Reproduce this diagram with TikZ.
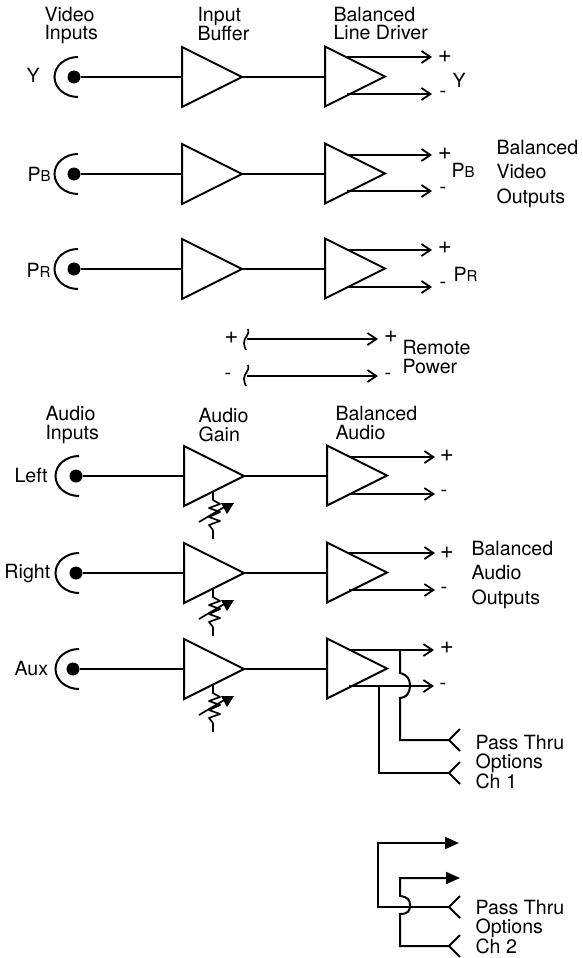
\documentclass[tikz,border=0pt]{standalone}
\usepackage{fontspec}
\setmainfont{TeX Gyre Heros}
\usetikzlibrary{shapes.geometric,arrows.meta}
\tikzset{
  wire/.style={line width=2pt,line join=miter},
  thin wire/.style={line width=1.7pt,line join=round},
  outarrow/.style={wire,-{Straight Barb[length=9pt,width=12pt,line width=1.8pt]}},
  solidarrow/.style={wire,-{Triangle[length=14pt,width=12pt]}},
  amp/.style={draw,line width=2pt,shape=isosceles triangle,isosceles triangle apex angle=53.13,
    isosceles triangle stretches,minimum width=60pt,minimum height=60pt,inner sep=0pt,outer sep=0pt,anchor=lower side},
  jackdot/.style={circle,fill=black,inner sep=0pt,outer sep=0pt,minimum size=13pt},
  lab/.style={inner sep=0pt,outer sep=0pt,anchor=base west,align=left,font=\fontsize{19.6}{18.5}\selectfont},
  wide lab/.style={lab,font=\fontsize{19.6}{24.5}\selectfont},
  plussign/.style={inner sep=0pt,outer sep=0pt,anchor=center,font=\fontsize{24}{24}\selectfont},
  minussign/.style={inner sep=0pt,outer sep=0pt,anchor=center,font=\fontsize{20}{20}\selectfont},
}
\newcommand{\smallcap}[1]{{\fontsize{15}{15}\selectfont #1}}
% name, jack dot x, arc x, y, amp x, driver x, plus y, minus y, tip x
\newcommand{\chainrow}[9]{%
  \node[jackdot] (#1dot) at (#2,#4) {};
  \draw[wire] (#3,#4-20) arc[start angle=90,end angle=270,x radius=23.5pt,y radius=20pt];
  \node[amp] (#1amp) at (#5,#4) {};
  \node[amp] (#1drv) at (#6,#4-0.5) {};
  \draw[wire] (#1dot) -- (#1amp.lower side);
  \draw[wire] (#1amp.apex) -- (#1amp.apex -| #1drv.lower side);
  \coordinate (#1p) at (#9,#7);
  \coordinate (#1m) at (#9,#8);
  \draw[outarrow] (#6+22,#7) -- (#1p);
  \draw[outarrow] (#6+22,#8) -- (#1m);
}
\newcommand{\potmeter}[2]{%
  \coordinate (#1top) at (213,#2+15);
  \draw[thin wire] (#1top) -- (213,#2+24) -- (220,#2+28) -- (209,#2+32) -- (220,#2+36) -- (209,#2+41) -- (220,#2+45) -- (209,#2+49) -- (213,#2+54);
  \draw[wire] (213,#2+54) -- (213,#2+63);
  \draw[thin wire] (199,#2+46) -- (226,#2+30);
  \fill (221,#2+27) -- (234,#2+27) -- (227,#2+38) -- cycle;
}
\newcommand{\fork}[3]{%
  \coordinate (#1) at (449,#2);
  \draw[wire] (460,#2-#3) -- (#1) -- (460,#2+#3);
}
\begin{document}
\begin{tikzpicture}[x=1pt,y=-1pt]
\useasboundingbox (0,0) rectangle (582,958);
% video
\chainrow{y}{74}{78}{77}{182}{325}{57}{94}{432}
\chainrow{b}{74}{78}{174}{182}{325}{155}{191}{432}
\chainrow{r}{74}{78}{269}{182}{325}{250}{287}{432}
% audio
\chainrow{l}{76}{79}{476}{184}{327}{457}{494}{435}
\chainrow{g}{76}{79}{573}{184}{327}{553}{590}{435}
\chainrow{a}{73}{79}{669}{184}{327}{650}{686}{434}
\potmeter{pl}{476}
\potmeter{pg}{573}
\potmeter{pa}{669}
% remote power
\coordinate (rp0) at (247,339); \coordinate (rp1) at (378,339);
\coordinate (rm0) at (247,376); \coordinate (rm1) at (378,376);
\draw[outarrow] (rp0) -- (rp1);
\draw[outarrow] (rm0) -- (rm1);
\draw[thin wire] (248,329) .. controls (250,336) and (244,336) .. (244,343) .. controls (244,346) and (245,348) .. (246,350);
\draw[thin wire] (248,365) .. controls (250,372) and (244,372) .. (244,379) .. controls (244,382) and (245,384) .. (246,386);
% pass thru ch1
\fork{f1}{740}{11}
\fork{f2}{773}{11}
\draw[wire] (400,650) -- (400,673) .. controls (408,675) and (410,680) .. (410,686) .. controls (410,693) and (406,698) .. (400,698) -- (400,740) -- (f1);
\draw[wire] (379,686) -- (379,773) -- (f2);
% pass thru ch2
\fork{f3}{907}{11}
\fork{f4}{946}{11}
\coordinate (t1) at (459,843); \coordinate (t2) at (460,878);
\draw[solidarrow] (f3) -- (378,907) -- (378,843) -- (t1);
\draw[solidarrow] (f4) -- (400,946) -- (400,914) .. controls (408,914) and (410,911) .. (410,905) .. controls (410,900) and (408,897) .. (400,896) -- (400,878) -- (t2);
% labels
\node[lab] (t01) at (44.5,40) {Video\\Inputs};
\node[lab] (t02) at (197.5,41) {Input\\Buffer};
\node[lab] (t03) at (333.5,40) {Balanced\\Line Driver};
\node[lab] (t04) at (26.5,82) {Y};
\node[lab] (t05) at (27.5,181) {P\smallcap{B}};
\node[lab] (t06) at (26.5,277) {P\smallcap{R}};
\node[lab] (t07) at (452.5,87) {Y};
\node[lab] (t08) at (451.5,177) {P\smallcap{B}};
\node[lab] (t09) at (453.5,281) {P\smallcap{R}};
\node[wide lab] (t10) at (496.5,203) {Balanced\\Video\\Outputs};
\node[lab] (t11) at (402.5,373) {Remote\\Power};
\node[lab] (t12) at (45.5,439) {Audio\\Inputs};
\node[lab] (t13) at (198.5,441) {Audio\\Gain};
\node[lab] (t14) at (335.5,439) {Balanced\\Audio};
\node[lab] (t15) at (14.5,482) {Left};
\node[lab] (t16) at (4.5,578) {Right};
\node[lab] (t17) at (14.5,675) {Aux};
\node[wide lab] (t18) at (471.5,604) {Balanced\\Audio\\Outputs};
\node[lab] (t19) at (475.5,788) {Pass Thru\\Options\\Ch 1};
\node[lab] (t20) at (475.5,953) {Pass Thru\\Options\\Ch 2};
% signs
\node[plussign] (s01) at (445,57) {+};
\node[plussign] (s02) at (445,154) {+};
\node[plussign] (s03) at (445,248) {+};
\node[minussign] (s04) at (443,94) {-};
\node[minussign] (s05) at (443,190) {-};
\node[minussign] (s06) at (443,285) {-};
\node[plussign] (s07) at (231.5,338) {+};
\node[plussign] (s08) at (391,337) {+};
\node[minussign] (s09) at (228,376) {-};
\node[minussign] (s10) at (388,376) {-};
\node[plussign] (s11) at (447,456) {+};
\node[plussign] (s12) at (447,553) {+};
\node[plussign] (s13) at (447,648) {+};
\node[minussign] (s14) at (444,493) {-};
\node[minussign] (s15) at (444,590) {-};
\node[minussign] (s16) at (443,686) {-};
\end{tikzpicture}
\end{document}
